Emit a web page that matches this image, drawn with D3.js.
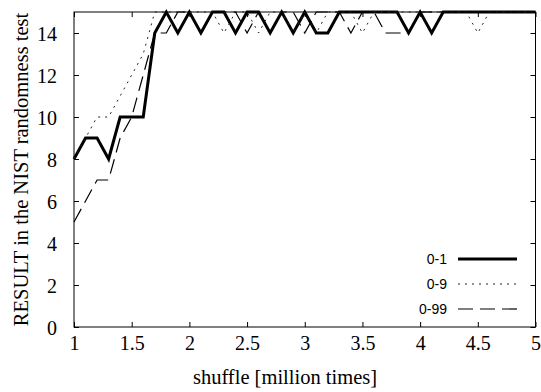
<!DOCTYPE html>
<html>
<head>
<meta charset="utf-8">
<script src="https://cdn.jsdelivr.net/npm/d3@7"></script>
<style>
  html, body { margin: 0; padding: 0; background: #fff; }
  svg { display: block; }
</style>
</head>
<body>
<svg id="chart" width="541" height="392"></svg>
<script>
// ---- data ----
const shuffles = [1.0,1.1,1.2,1.3,1.4,1.5,1.6,1.7,1.8,1.9,
                  2.0,2.1,2.2,2.3,2.4,2.5,2.6,2.7,2.8,2.9,
                  3.0,3.1,3.2,3.3,3.4,3.5,3.6,3.7,3.8,3.9,
                  4.0,4.1,4.2,4.3,4.4,4.5,4.6,4.7,4.8,4.9,5.0];
const range01 = [8,9,9,8,10,10,10,14,15,14,
                 15,14,15,15,14,15,15,14,15,14,
                 15,14,14,15,15,15,15,15,15,14,
                 15,14,15,15,15,15,15,15,15,15,15];
const range09 = [8,9,10,10,11,12,13,15,15,15,
                 15,15,15,14,15,15,14,15,15,14,
                 15,14,15,15,15,14,15,15,15,15,
                 15,15,15,15,15,14,15,15,15,15,15];
const range099 = [5,6,7,7,9,10,12,14,14,15,
                  15,14,15,15,15,14,15,14,15,15,
                  14,15,15,15,14,15,15,14,14,14,
                  15,15,15,15,15,15,15,15,15,15,15];
const seriesNames = ["0-1", "0-9", "0-99"];
const xTicks = [1, 1.5, 2, 2.5, 3, 3.5, 4, 4.5, 5];
const yTicks = [0, 2, 4, 6, 8, 10, 12, 14];
const xTitle = "shuffle [million times]";
const yTitle = "RESULT in the NIST randomness test";

(function () {
// ---- layout ----
const svg = d3.select("#chart");
const pLeft = 74, pRight = 535.5, pTop = 12, pBottom = 327;
const x = d3.scaleLinear().domain([1, 5]).range([pLeft, pRight]);
const y = d3.scaleLinear().domain([0, 15]).range([pBottom, pTop]);
const serif = "Liberation Serif";
const sans = "Liberation Sans";
const tickLen = 5;

// border
svg.append("rect")
  .attr("x", pLeft).attr("y", pTop)
  .attr("width", pRight - pLeft).attr("height", pBottom - pTop)
  .attr("fill", "none").attr("stroke", "#000").attr("stroke-width", 1);

// axes (inward ticks on all four sides)
const gx = svg.append("g").attr("transform", `translate(0,${pBottom})`)
  .call(d3.axisBottom(x).tickValues(xTicks).tickSize(-tickLen).tickPadding(9)
        .tickFormat(d3.format("")));
const gxTop = svg.append("g").attr("transform", `translate(0,${pTop})`)
  .call(d3.axisTop(x).tickValues(xTicks).tickSize(-tickLen).tickFormat(""));
const gy = svg.append("g").attr("transform", `translate(${pLeft},0)`)
  .call(d3.axisLeft(y).tickValues(yTicks).tickSize(-tickLen).tickPadding(17)
        .tickFormat(d3.format("d")));
const gyRight = svg.append("g").attr("transform", `translate(${pRight},0)`)
  .call(d3.axisRight(y).tickValues(yTicks).tickSize(-tickLen).tickFormat(""));

[gx, gxTop, gy, gyRight].forEach(g => {
  g.attr("font-family", serif).attr("font-size", 20);
  g.select(".domain").remove();
  g.selectAll(".tick line").attr("stroke", "#000").attr("stroke-width", 1);
  g.selectAll("text").attr("fill", "#000")
    .attr("font-family", serif).attr("font-size", 20);
});
gx.selectAll("text").attr("dy", "0.72em");
gy.selectAll("text").attr("dy", "0.35em");

// titles
svg.append("text")
  .attr("x", 285).attr("y", 384)
  .attr("text-anchor", "middle")
  .attr("font-family", serif).attr("font-size", 20.5)
  .text(xTitle);
svg.append("text")
  .attr("transform", `translate(28,${(pTop + pBottom) / 2}) rotate(-90)`)
  .attr("text-anchor", "middle")
  .attr("font-family", serif).attr("font-size", 20.5)
  .text(yTitle);

// series
const styles = [
  { width: 3, dash: null, color: "#000" },
  { width: 1, dash: "2,5", color: "#222" },
  { width: 1.2, dash: "15,7", color: "#000" }
];
const allSeries = [range01, range09, range099];
const line = d3.line().x((d, i) => x(shuffles[i])).y(d => y(d));

allSeries.forEach((vals, k) => {
  svg.append("path")
    .datum(vals)
    .attr("d", line)
    .attr("fill", "none")
    .attr("stroke", styles[k].color)
    .attr("stroke-width", styles[k].width)
    .attr("stroke-dasharray", styles[k].dash)
    .attr("stroke-linejoin", "miter");
});

// legend
const legendRowY = [259, 284, 309];
seriesNames.forEach((name, k) => {
  const ly = legendRowY[k];
  svg.append("text")
    .attr("x", 447).attr("y", ly)
    .attr("dy", "0.35em")
    .attr("text-anchor", "end")
    .attr("font-family", sans).attr("font-size", 14)
    .text(name);
  svg.append("line")
    .attr("x1", 458).attr("x2", 517)
    .attr("y1", ly).attr("y2", ly)
    .attr("stroke", styles[k].color)
    .attr("stroke-width", styles[k].width)
    .attr("stroke-dasharray", styles[k].dash);
});
})();
</script>
</body>
</html>
